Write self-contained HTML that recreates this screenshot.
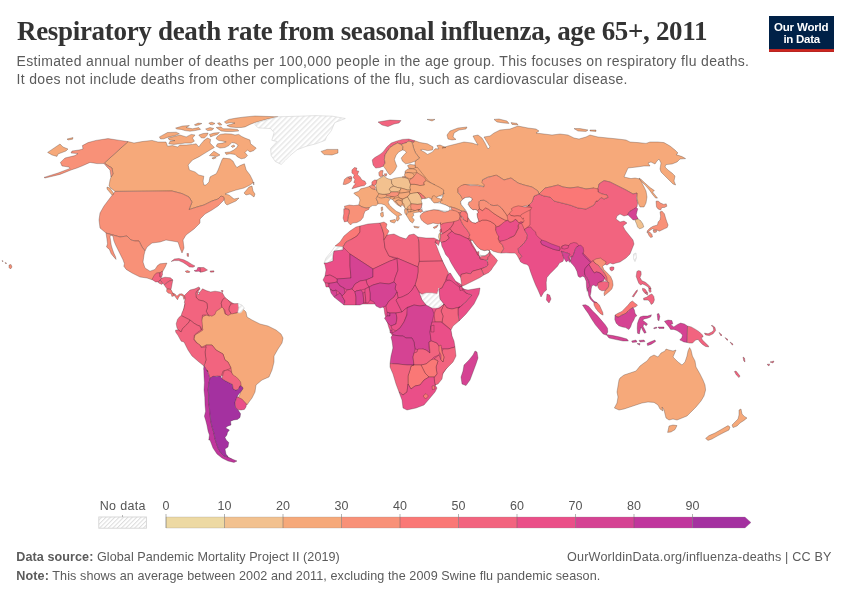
<!DOCTYPE html>
<html><head><meta charset="utf-8">
<style>
html,body{margin:0;padding:0;background:#fff;}
body{width:850px;height:600px;overflow:hidden;position:relative;font-family:"Liberation Sans",sans-serif;}
svg{position:absolute;left:0;top:0;}
text{font-family:"Liberation Sans",sans-serif;}
.title{font-family:"Liberation Serif",serif;font-weight:bold;font-size:27px;fill:#333;}
.sub{font-size:14px;fill:#5b5b5b;}
.foot{font-size:12.6px;fill:#5b5b5b;}
.leg{font-size:12.5px;fill:#555;text-anchor:middle;}
.logo{font-size:11.5px;font-weight:bold;fill:#fff;text-anchor:middle;}
.c path,.c polygon{stroke:#2a2020;stroke-opacity:.55;stroke-width:.5;stroke-linejoin:round;}
.c path.n{stroke:#d2d2d2;stroke-opacity:1;stroke-width:.6;}
</style></head><body>
<svg width="850" height="600" viewBox="0 0 850 600">
<defs>
<pattern id="hatch" patternUnits="userSpaceOnUse" width="3.9" height="4" patternTransform="rotate(45)">
<rect width="4" height="4" fill="#fff"/><rect x="0" y="0" width="1.5" height="4" fill="#e7e7e7"/>
</pattern>
<pattern id="hatch2" patternUnits="userSpaceOnUse" width="3.1" height="4" patternTransform="rotate(45)">
<rect width="4" height="4" fill="#fff"/><rect x="0" y="0" width="1" height="4" fill="#dcdcdc"/>
</pattern>
</defs>
<text class="title" x="17" y="40.3" textLength="690.5" lengthAdjust="spacing">Respiratory death rate from seasonal influenza, age 65+, 2011</text>
<text class="sub" x="16.5" y="66.2" textLength="732.5" lengthAdjust="spacing">Estimated annual number of deaths per 100,000 people in the age group. This focuses on respiratory flu deaths.</text>
<text class="sub" x="16.5" y="84.3" textLength="611" lengthAdjust="spacing">It does not include deaths from other complications of the flu, such as cardiovascular disease.</text>
<rect x="769" y="16" width="65" height="36" fill="#002147"/>
<rect x="769" y="49.1" width="65" height="2.8" fill="#ce261e"/>
<text class="logo" x="801.3" y="30.6" textLength="54.7" lengthAdjust="spacing">Our World</text>
<text class="logo" x="801.8" y="42.6" textLength="36.7" lengthAdjust="spacing">in Data</text>
<g class="c">
<path d="M414.4 140.6L420 142.5L427.5 143.8L433.1 146.9L432.5 150L427.5 150.6L422.5 149.4L420.6 150L425 152.5L427.5 154.4L432.5 151.9L435 148.8L438.8 148.8L436.9 145.6L440 145L446 147.5L442 148L448 146L456 144L464 142L472 143L478 145L475 140L473 136L478 135L482 138L485 143L488 149L490 147L487 142L484 137L490 136L494 133L500 130L510 129L518 126L528 128L536 129L539 131L536 133L544 134L552 135L560 134L568 135L574 138L579 139L586 137L590 135L598 137L608 138L618 139L626 140L630 142L638 142.6L646 143.4L650 142L658 142L664 142.6L670 146L675 150L678 153L676 154.6L682 156.6L685.6 158.6L680 159L677 162L672 164L666 164.6L665 167L668 170L672 173L675 176L674 181L675.6 185L673 184L669 180L664 175L661 172L660 169L661 163L659 159L657 161L655 164L651 162L648 163L650 166L644 166L637 167L628 168L624 177L631 178.6L635 178L640 179L643 185L646 191L647 197L646 203L644 207L640 207L638 203L637 198L637 193L633 194L626 190L618 186L610 182L604 180.6L599 184L598 189L590 190L594 188L586 189L578 187L570 188L563 187L558 185L550 187L545 188L539 194L538 191L532 187L524 185L518 183L511 178L504 180L497 175.4L488 177L482 180L485 183L484 186.6L478 185L470 184.6L463 185L458 189L458 193L461 196L464 199L462.5 199.4L460.6 201.9L461.2 204.4L463.1 206.9L465.6 210L463.8 211.2L461.9 211.2L459.4 210L455 208.1L450.6 206.9L449.4 206.9L445.6 205L440 203.1L441 200L441.5 197.5L443.8 193.8L441.9 191.2L444 194L443 190L438 187L430 184L435 185L430 182.5L426.2 180.6L424.4 177.5L420 174.4L416.9 172.5L416.2 170L415.6 167.5L415 165L415 161.2L419.4 158.1L418.1 156.2L415.6 153.1L413.8 148.8L412.5 143.8L411.2 141.5L413.8 142.2Z" fill="#f6a97a"/>
<path d="M377.5 183.8L392.5 180.6L402.5 179L406.2 177.2L406.5 173.8L409 170.2L410.2 167.1L417.5 167.5L427.5 180L437.5 190L427.5 197.5L422.5 200L420 208.8L410 212.5L405 207.5L395 198.8L387.5 197.5L378.8 195L376.2 191.2Z" fill="#f6a97a"/>
<path d="M328 268L344 248L360 229L380 226L388 238L416 240L432 242L442 260L448 274L460 286L468 292L458 316L450 328L454 348L452 360L436 384L426 400L406 408L403 396L395 376L392 360L394 340L389 328L384.8 314L384 308L380 305L376 304L360 304L345 303L332 292L326 280Z" fill="#ea4f88"/>
<path d="M186.2 297.5L220 295L237.5 306.2L246 318L274 338L266 374L250 390L240 388L220 374L206 364L188 348L178.8 331.2L182.5 315Z" fill="#f2647f"/>
<path d="M529.4 205L528 206L532 202L534 196L539 194L544 196L550 197L554 201L562 203L570 205L578 208L586 209L594 205L596 201L598 201L601 197.4L604 199L608 197.4L607 195L602 194L598 192L598 189L599 184L604 180.6L610 182L618 186L626 190L633 194L637 193L636.4 198L637.6 203L637 207L633 210L629 212L628 215L624 216L620 214L617 216L616 219L620 222L624 221L627 223L623 226L625 230L629 235L633 240L634 244L632 249L630 254L626 258L620 262L616 263L613 264L610 263L607 265L603 263.6L598 262.4L592 264.4L588 260L583 255L583.1 252.5L581.2 249.4L577.5 247.2L573.8 245L570 246.9L565 247.2L561.9 249.4L560 251.9L553.8 251L547.5 248.5L541.9 246L540 242.8L536.2 236.9L533.1 231.9L527.5 229.4L523.8 230.6L521.2 227.5L519.4 221.9L518.8 216.2L521.2 211.2L527.5 206.9Z" fill="#f2647f"/>
<path d="M470.2 241L472.5 240.2L474.4 243.1L477.5 246.9L480.6 249.4L484.4 250.6L487.5 250L489.4 250.6L490 251.9L487.5 254.4L485 255.6L481.9 255.6L480 255L479.4 256.2L477.5 254.4L476.2 251.9L474.4 248.8L471.9 245.6L470 243.1Z" fill="#fff"/>
<path d="M462.5 212.5L480 203.8L512.5 211.2L530 205.6L530 225L512.5 240L500 245L481.2 242.5L468.8 231.2Z" fill="#fa7876"/>
<path d="M441.9 227.5L453.8 220L468.8 237.5L480 257.5L487.5 262.5L481.2 270L462.5 275L460.6 275L443.8 247.5Z" fill="#f2647f"/>
<path d="M573.8 252.5L582.5 252.5L592.5 263.1L605 277.5L600 284.4L590 277.5L577.5 271.2Z" fill="#d54393"/>
<path d="M128 141.6L134 143L142 141.6L152 140.4L158 142L166 142L167.5 146.2L172.5 145.6L177.5 146.9L180 145L186.2 145L192.5 144.4L196.2 143.8L198.8 146.9L200.6 144.4L204.4 140L207.5 138.1L210.6 139.4L210 143.1L212.5 145.6L214.4 147.5L210 150L205 153.1L198.8 156.9L192.5 160L188.1 165L189.4 170L195 171.9L198.8 175L203.8 176.2L203.1 181.2L203.8 185L206 185L209 182L210 177L211.2 176.2L216.2 173.8L218.1 170L220 165L221.9 160L223.1 158.1L230 158.8L233.1 161.2L235 165L236.9 167.5L240 165.6L244.4 163.8L246.2 170L250 175L252.5 180L253.8 185L254 182L250 185L244 188L236 190L230 192L225 194L229 195L234 199L239 198L236 201L227 205L225 203L224 198L221 196L218 199L212 201L204 205L197 207L189 209.6L192 202L189 197L182 193.6L172 191L115 191.4L112 189L109 186L110 180L111 177L113 174L112 168L107 165L104.4 163Z" fill="#f6a97a"/>
<path d="M128 141.6L120 140.4L108 138.6L96 140.4L88 142.6L82.4 145.6L83 149L79 150L72 151L71 153L78 153.6L75 155.6L65 158L60.4 162.4L62 166L69 167L70 168.4L58 173L44 177.4L45 178L60 174.4L71 170L77 168L82 166L90 162.4L97 163.6L104 163.6L107 167L110 170L111 177L113 174L112 168L107 165L104.4 163Z" fill="#f89178"/>
<path d="M115 191.4L110 198L104 206L100 213L99 220L100 228L106 233L113 235L120 237L127 236L131 240L135 241L139 241L142 247L145 251L147 247L152 243L160 242L166 240L172 241L178 242L180 248L182 253L184 248L183 240L186 235L194 229L200 223L200 219L205 214L212 210L218 206L224 200L224 197L221 196L218 199L212 201L204 205L197 207L189 209.6L192 202L189 197L182 193.6L172 191Z" fill="#f89178"/>
<path d="M106 233.1L106.9 238.8L107.5 243.8L106.5 246.9L109.4 249.4L111.2 253.8L113.8 256.9L116 259.4L115.6 256.9L113.8 253.1L112.5 249.4L111.2 245L110.6 240.6L110 236.9L110.6 235L113.1 236.2L113.8 240.6L115.6 245L118.1 250L120.6 255L123.1 260L124.4 263.8L123.8 266.2L126.2 269.4L132 273L140 277L147 278L152.2 279.8L155 276.5L156.5 274L159.4 272.8L161.9 272.8L163.5 270L165.6 266.2L166.9 263.1L160 263.8L157.5 265.6L155 269.4L150 271.2L145 268L143 262L144 255L145 251L142 247L139 241L135 241L131 240L127 236L120 237L113 235Z" fill="#f89178"/>
<path d="M321 151.4L327 149.4L338 149.4L338 153L332 155L324 154.6Z" fill="#f6a97a"/>
<path d="M107 187L110 188L114 194L112 195L107 189Z" fill="#f6a97a"/>
<path d="M244 193L249 187L252 186L253 191L255 194L254 197L250 194L246 195Z" fill="#f6a97a"/>
<path d="M151.9 279.4L154.8 274.4L156.9 272.8L160 272.8L160 276.9L161.9 278.1L160 280L158.1 281.9L155.6 281.9Z" fill="#f2647f"/>
<path d="M160 272.8L162.2 271L162.5 274.4L161.5 277.2L160 276.9Z" fill="#f2647f"/>
<path d="M161.9 278.1L165 277.2L170.6 277.8L172.8 280L169.4 281.2L166.2 283.1L164.4 285L162.5 282.8L160.6 281.2L160 280Z" fill="#f2647f"/>
<path d="M158.1 281.9L160 280.2L160.6 281.2L162.8 283L161.9 284.4L158.8 283.1Z" fill="#f2647f"/>
<path d="M172.8 280L171.9 285L171 289.4L166.9 288.8L164.4 285.2L166.2 283.1L169.4 281.2Z" fill="#f2647f"/>
<path d="M166.9 289L171 289.6L172.8 293.1L174.4 295.6L171.9 296.5L171.2 293.8L168.1 293.1L166.5 291.2Z" fill="#fa7876"/>
<path d="M172.8 293.1L174.4 295.6L176.2 298.1L177.5 299.8L178.8 296.9L180.6 295L183.1 296.2L183.8 299.4L185.2 298.1L184.4 295.6L181.9 293.8L179.4 294L176.9 296.2L175 294Z" fill="#fa7876"/>
<path d="M171.2 261.5L174.4 259L178.8 258.5L183.8 259.8L188.1 261.9L191.9 264.4L195 266L193.1 267.2L189.4 266.9L186.9 265L183.1 262.5L178.8 260.6L174.4 260.6Z" fill="#f2647f"/>
<path d="M199.8 267.5L203.8 267.5L207.5 270L205 271.2L202.5 271.9L200.6 272.2Z" fill="#f2647f"/>
<path d="M194 270.6L196.9 270L197.8 267.5L199.8 267.5L200.6 272.2L198.8 271.2L195.6 271.5Z" fill="#ea4f88"/>
<path d="M185.2 271.2L187.5 270.6L189.8 271.5L189.4 272.5L186.5 272.5Z" fill="#fa7876"/>
<path d="M210 271L213.8 270.8L214 272L210.6 272.2Z" fill="#f2647f"/>
<path d="M186.9 253.5L188.5 253.5L188.5 256.5L187.2 256.2Z" fill="#fa7876"/>
<path d="M221 290.6L223.1 290.6L222.5 292.5Z" fill="#f2647f"/>
<path d="M243 309L246 312L247 317L252 320L260 324L268 326L276 330L281 334L283 338L282 343L278 349L274 356L274 362L272 370L269 377L262 380L256 385L255 392L252 398L249 402L247 405L242 400L238 398L240 394L242 388L239 386L237 380L234 378L232 374L231 368L228 362L225 360L223 354L216 350L212 345L206 345L202 347L197 343L194 339L195 335L200 332L203 330L201 323L202.4 317L208 314L213 314L216 309.6L220 307.6L223 306.6L225 314L228 315L230 313L236 313L239 312Z" fill="#f6a97a"/>
<path d="M199.8 288.1L196.9 290.6L195.6 293.1L196.2 297.5L198.8 300L203.8 301.2L206.9 303.1L207.5 307.5L206.2 311.2L208.1 315L211.9 316.2L215 314.4L216.2 311.2L220 308.8L221.9 306.9L221.2 303.1L222.5 300L225 297.5L222.5 293.1L220 291.9L215 291.2L210.6 291.9L206.2 290.6L202.5 288.8L200.6 291.2L198.8 293.1L198.1 291.2L199.8 289.4Z" fill="#f2647f"/>
<path d="M225 297.5L228.1 300L231.2 303.8L229.4 306.9L229 310L231.2 313.8L228.1 315.6L225.6 313.8L224.8 310L221.9 306.9L221.2 303.1L222.5 300Z" fill="#f2647f"/>
<path d="M231.2 303.8L238.1 303.5L238.8 307.5L237.8 312.5L235 313.1L231.9 314L231.2 313.8L229 310L229.4 306.9Z" fill="#f2647f"/>
<path d="M238.1 303.5L241.9 305L244.4 308.1L241.2 312.5L239.4 313.1L237.8 312.5L238.8 307.5Z" fill="url(#hatch)" class="n"/>
<path d="M206 345L212 345L216 350L223 354L225 360L228 362L231 368L227 370L223 371L221 377L217 376L213 377L210 378L208 372L204 366L206 360L205 352Z" fill="#f2647f"/>
<path d="M226.4 455L228.4 457.6L232.4 459.6L229 458.4Z" fill="#a431a0"/>
<path d="M198.1 291.9L199.4 293.1L198.8 295L197.8 293.8Z" fill="#fff"/>
<path d="M353.8 193.1L358.8 191.2L360.6 188.8L365 187.8L370 186.2L372.5 188.5L375.6 189.4L378.1 191.9L379.4 194.4L376.9 196.9L376.2 198.8L377.5 201.2L378.1 203.8L376.2 205.6L372.5 205.6L369.4 207.5L366.2 208.1L361.9 206.9L358.8 205L360 200L358.8 196.9L355.6 195Z" fill="#f6a97a"/>
<path d="M381 207.5L382.5 206.9L382.8 210L381.5 211.2Z" fill="#f6a97a"/>
<path d="M344.4 206.2L349.4 205L353.8 205.6L358.8 205L361.9 206.9L366.2 208.1L369.4 207.5L368.8 209.4L365 211.2L363.8 214.4L363.1 217.5L360.6 220.6L356.9 222.5L352.5 223.1L350.6 225L348.8 223.1L347.5 221.2L348.1 216.9L349.4 211.9L348.8 209.4L345 208.8Z" fill="#f89178"/>
<path d="M343.8 208.8L345 208.8L348.8 209.4L349.4 211.9L348.1 216.9L347.5 221.2L344.4 221.9L343.1 218.1L343.8 213.8Z" fill="#fa7876"/>
<path d="M376.2 198.8L377.5 196.2L381.2 196.9L385 197.5L388.1 197.5L390 199.4L388.1 201.9L389.4 205L392.5 208.1L396.2 211.2L400 213.1L401.9 215L398.8 215.6L399.4 218.8L397.5 221.2L396.2 219.4L396.9 216.2L393.8 213.8L390.6 211.2L387.5 208.1L385 205L381.2 203.8L378.1 203.8L377.5 201.2Z" fill="#f6a97a"/>
<path d="M390 220.6L395 219.4L396.2 220.6L394.4 223.1L390.6 221.9Z" fill="#f6a97a"/>
<path d="M380.6 213.1L383.1 211.9L383.5 216.2L381.9 217.2L380.6 215.6Z" fill="#f6a97a"/>
<path d="M376.9 180L380 178.1L382.5 176.9L383.1 175L385.6 177.5L388.1 178.8L391.2 179.4L391.9 183.8L393.8 186.2L390.6 187.5L389.4 189.4L391.2 191.9L389.4 193.8L385.6 194.4L382.5 194.4L378.8 193.8L376.9 191.2L376.2 187.5L375.6 183.8Z" fill="#f2c18f"/>
<path d="M391.2 179.4L395 178.1L401.2 177.2L404.4 177.5L408.1 178.8L409.4 181.2L410.6 184.4L410 187.5L410.6 190L407.5 190L403.8 188.8L401.2 188.1L397.5 187.5L393.8 186.2L391.9 183.8Z" fill="#f2c18f"/>
<path d="M372.2 160L374.4 157.8L380 154.4L383.1 151.9L386.9 146.9L391.2 143.1L396.2 141.2L402.5 139.4L408.8 139L414.4 140.6L413.8 142.2L411.2 141.5L408.1 141.2L406.9 142.5L403.8 143.5L401.2 144.4L397.5 143.1L393.8 145L390 147.5L386.9 151.9L385 155L384.4 159.4L385.2 163.1L383.1 166.2L380 167.5L375.6 168.1L373.1 165Z" fill="#f2647f"/>
<path d="M401.2 144.4L403.1 146.9L402.5 150L398.8 151.9L396.2 155L394.4 159.4L395.6 163.1L396.9 166.2L395 170L392.5 173.1L390 175L388.1 173.1L386.2 170L384.4 167.5L383.1 166.2L385.2 163.1L384.4 159.4L385 155L386.9 151.9L390 147.5L393.8 145L397.5 143.1Z" fill="#f6a97a"/>
<path d="M403.8 143.5L406.9 142.5L408.1 141.2L411.2 141.5L412.5 143.8L413.8 148.8L415.6 153.1L418.1 156.2L419.4 158.1L415 161.2L410 163.1L405.6 163.8L402.5 161.2L401.2 158.1L403.8 155L406.2 152.5L405 150.6L402.5 150L403.1 146.9L401.2 144.4Z" fill="#f6a97a"/>
<path d="M407.5 165.6L410 164.4L415 165L415.6 167.5L413.1 168.8L408.8 168.1Z" fill="#f6a97a"/>
<path d="M405 171.2L408.1 168.8L413.1 168.8L416.2 170L416.9 172.5L412.5 173.1L408.1 172.5L405 173.1Z" fill="#f6a97a"/>
<path d="M405 173.1L408.1 172.5L412.5 173.1L414.4 175.6L412.5 178.1L409.4 178.8L405.6 176.9L404.4 175Z" fill="#f6a97a"/>
<path d="M412.5 178.1L414.4 175.6L416.9 172.5L420 174.4L424.4 177.5L426.2 180.6L423.8 182.5L424.4 185L420 185.6L415 184.4L410.6 184.4L409.4 181.2L410 179.4Z" fill="#f89178"/>
<path d="M378.8 172.5L380.6 170.6L383.1 170.6L382.5 173.8L383.1 175.6L380.6 176.9L379 175.6Z" fill="#f89178"/>
<path d="M384.4 173.8L386.9 173.8L386.2 176.2L384.8 176Z" fill="#f89178"/>
<path d="M371.9 181.9L374.4 180L376.9 180L376.2 183.8L374.4 185.6L371.9 185Z" fill="#fa7876"/>
<path d="M369.4 186.2L371.9 185L374.4 185.6L375.6 187.5L375 189.4L371.9 188.8Z" fill="#f89178"/>
<path d="M351.9 170L354.4 167.5L356.9 168.1L356.2 170.6L358.8 171.2L357.5 174.4L360 176.9L361.9 180L365 181.2L366.2 183.8L364.4 185.6L360.6 186.2L356.2 187.5L351.9 188.8L353.8 185.6L355.6 183.8L353.8 182.5L355 179.4L353.1 177.5L354.4 175L351.9 173.1Z" fill="#fa7876"/>
<path d="M348.1 176.9L351.2 176.2L351.9 178.1L349.4 179Z" fill="#fa7876"/>
<path d="M344.4 179.4L347.5 176.9L349.4 179L351.9 178.1L351.2 181.2L348.8 183.1L345.6 184.4L343.1 184.4Z" fill="#f89178"/>
<path d="M389.4 189.4L390.6 187.5L393.8 186.2L397.5 187.5L401.2 188.1L400 190.6L396.9 191.9L393.1 191.9L391.2 191.9Z" fill="#f2c18f"/>
<path d="M385.6 194.4L389.4 193.8L391.2 191.9L393.1 191.9L396.9 191.9L399.4 193.1L398.1 195.6L393.8 196.9L390 196.2L386.9 195.6Z" fill="#f89178"/>
<path d="M400 190.6L401.2 188.1L403.8 188.8L407.5 190L410.6 190L409.4 191.9L405 192.5L401.2 193.1L399.4 193.1Z" fill="#f6a97a"/>
<path d="M398.1 195.6L399.4 193.1L401.2 193.1L405 192.5L409.4 191.9L410 193.8L407.5 196.9L403.1 198.8L399.4 198.1Z" fill="#f6a97a"/>
<path d="M377.5 196.2L378.8 193.8L382.5 194.4L385.6 194.4L386.9 195.6L385 197.5L381.2 198.1L378.8 197.5Z" fill="#f6a97a"/>
<path d="M410.6 190L410 187.5L410.6 184.4L415 184.4L420 185.6L424.4 185L423.8 182.5L426.2 180.6L430 182.5L435 185L440 187.5L443.8 190L443.1 194.4L438.8 196.2L436.2 198.1L432.5 199.4L430 198.1L427.5 199.4L425 197.5L422.5 195L420 193.1L417.5 192.5L413.8 193.1L410 193.8L409.4 191.9Z" fill="#f6a97a"/>
<path d="M390 196.9L393.8 196.9L395 198.1L392.5 199.4L390 198.8Z" fill="#f6a97a"/>
<path d="M392.5 199.4L395 198.1L398.1 197.5L402.5 199.4L401.2 200.6L398.1 200L395.6 201.2L398.8 205L401.2 206.9L397.5 205L394.4 201.9Z" fill="#f6a97a"/>
<path d="M395.6 201.2L398.1 200L401.2 200.6L402.5 203.1L401.2 206.2L398.8 205Z" fill="#f6a97a"/>
<path d="M402.5 199.4L407.5 196.9L409.4 200L411.2 202.5L410 205L407.5 206.9L408.1 209.4L405 208.8L403.8 203.8L402.5 203.1Z" fill="#f2c18f"/>
<path d="M407.5 196.9L410 193.8L413.8 193.1L417.5 192.5L420 195L421.9 198.8L425 200.6L422.5 203.8L417.5 204.4L411.2 203.8L409.4 200Z" fill="#f2c18f"/>
<path d="M411.2 203.8L417.5 204.4L422.5 203.8L421.9 206.9L420 209.4L415 210.6L411.2 209.4L410.6 206.2Z" fill="#f89178"/>
<path d="M417.5 192.5L420 193.1L422.5 195L425 197.5L423.1 199.4L421.9 198.8L420 195Z" fill="#fa7876"/>
<path d="M407.5 209.4L411.2 209.4L410.6 211.9L408.1 212.2Z" fill="#f6a97a"/>
<path d="M404.4 209.4L406.9 208.8L407.5 211.9L406.2 215L404.8 213.1Z" fill="#f6a97a"/>
<path d="M406.2 215L408.1 212.2L410.6 211.9L415 210.6L420 209.4L419.4 211.9L415.6 212.5L413.1 213.1L413.8 215.6L411.9 216.9L414.4 220L412.5 223.1L410 221.2L408.1 218.1Z" fill="#f6a97a"/>
<path d="M413.8 226.2L419.4 226.9L418.1 228.1L414.4 227.5Z" fill="#f6a97a"/>
<path d="M335 246L340 242L344 236L350 231L356 227L360 226L360 232L357 236L352 239L346 242L343 247Z" fill="#fa7876"/>
<path d="M324 263L326 258L331 252L335 246.4L343 247L343 250L334 251L333 256L333 261L327 263Z" fill="url(#hatch)" class="n"/>
<path d="M325 265L324 263L327 263L333 261L333 256L334 251L343 250L343 247L349 251L350 254L350 266L351 278L337 279L334 277L330 275L325 276L326 270Z" fill="#ea4f88"/>
<path d="M360 226L368 224L380 223L382 228L384 235L384 240L385 248L389 256L396 259L390 261L373 269L350 254L343 247L346 242L352 239L357 236L360 232Z" fill="#f2647f"/>
<path d="M380 223L384 222L387 224L386 228L389 231L387 235L384 240L384 235L382 228Z" fill="#fa7876"/>
<path d="M387 235L394 234L400 237L406 239L409 235L414 234L418 237L419 242L419.4 261L418 267L397 258L389 256L385 248L384 240Z" fill="#f2647f"/>
<path d="M418 237L426 238L434 238L438 240L437 244L435 242L438.8 252L442.4 261L419.4 261.4L419 242Z" fill="#f2647f"/>
<path d="M435 241L438 240L440 241L438.4 245.6Z" fill="#f2647f"/>
<path d="M419.4 261.4L442.4 261L446 268L448.6 273L447 276L445 282L442 288L438 290L437 294L432 293L426 293L422 294L419 292L415 285L417 278L418 272L418 267Z" fill="#f2647f"/>
<path d="M419 293L422 294.4L426 293L432 293L437 294L439 288L440 299L444 304L438 308L432 308L426 305L422 300Z" fill="url(#hatch)" class="n"/>
<path d="M445 282L448 280L452 280L457 282L462 285L461 289L466 293L472 295L466 302L460 307L452 309L447 308L444 304L440 299L439 289L442 288Z" fill="#ea4f88"/>
<path d="M463 289L468 290L480 288L479 294L474 304L466 314L459 321L458 314L458 308L460 307L466 302L472 295L466 293Z" fill="#ea4f88"/>
<path d="M444 304L447 308L452 309L460 307L458 308L458 314L459 321L453 326L451 330L442 322L443 316L441 311Z" fill="#f2647f"/>
<path d="M434 314L436 309L440 308L444 304L441 311L443 316L442 322L435 322Z" fill="#f2647f"/>
<path d="M350 254L373 269L373 277L366 280L360 281L355 284L352 289L347 290L344 288L340 286L337 282L337 279L351 278L350 266Z" fill="#d54393"/>
<path d="M373 269L390 261L396 259L397 258L398 270L395 278L394 282L389 284L380 283L373 285L369 287L367 284L366 280L373 277Z" fill="#ea4f88"/>
<path d="M397 258L418 267L418 272L417 278L415 285L412 290L408 294L402 297L398 298L397 292L395 289L396 284L394 282L395 278L398 270Z" fill="#ea4f88"/>
<path d="M369 287L373 285L380 283L389 284L394 282L396 284L395 289L397 292L394 297L389 301L386 306L380 308L376 306L374 302L370 300L370 293Z" fill="#d54393"/>
<path d="M325 276L330 275L334 277L337 279L337 282L332 283L325 283L323 280Z" fill="#ea4f88"/>
<path d="M325 283L329 283.6L329 287L326 287Z" fill="#ea4f88"/>
<path d="M329 283.6L332 283L337 282L340 286L344 288L345 293L342 296L340 293L336 290L333 291L330 289L329 287Z" fill="#d54393"/>
<path d="M330 289L333 291L336 290L337 295L334 297L331 293Z" fill="#d54393"/>
<path d="M337 295L340 293L342 296L345 301L344 305L339 301L334 297Z" fill="#d54393"/>
<path d="M345 293L347 290L352 289L355 292L356 297L356 305L350 305L344 305L345 301L342 296Z" fill="#ea4f88"/>
<path d="M352 289L355 284L360 281L366 280L367 284L369 287L365 289L361 290L356 291L355 292Z" fill="#ea4f88"/>
<path d="M356 291L361 290L363 293L364 303L360 305L356 305L356 297L355 292Z" fill="#d54393"/>
<path d="M363 293L365 292L366 303L364 303Z" fill="#ea4f88"/>
<path d="M365 289L369 287L370 293L370 300L368 303L366 303L365 292Z" fill="#ea4f88"/>
<path d="M389 301L394 297L397 292L398 298L396 300L399 306L402 312L396 313L390 313L387 312L386 306Z" fill="#ea4f88"/>
<path d="M398 298L402 297L408 294L412 290L415 285L419 292L422 300L426 305L420 306L414 305L408 307L404 310L402 312L399 306L396 300Z" fill="#ea4f88"/>
<path d="M387 312.4L390 313L390 316L387 316Z" fill="#d54393"/>
<path d="M387 316L390 316L390 313L396 313L397 318L396 324L391 326L387 322L384.4 318Z" fill="#d54393"/>
<path d="M396 313L402 312L404 310L408 307L407 314L404 322L400 328L396 331L392 329L391 326L396 324L397 318Z" fill="#ea4f88"/>
<path d="M407 308L414 305L420 306L426 305L432 308.4L434 314L432 322L431 326L430 332L431 340L429 342L429 348L430 353L426 350L423 349L420 350L415 349L414 342L412 338L406 338L403 336L400 336L393 335L392 333L396 331L400 328L404 322L407 315Z" fill="#d54393"/>
<path d="M393 335L400 336L403 336L406 338L412 338L414 342L415 349L414 353L413 357L414 365L407 365L398 364L390 363.6L391 356L393 348L392 341L391 337Z" fill="#d54393"/>
<path d="M390 330L392 330L392 333L390 333Z" fill="#d54393"/>
<path d="M414 353L417 352L418 349L423 349L426 350L430 353L429 342L432 341L437 343L439 346L441 350L439 355L434 357L431 360L426 364L421 365L414 365L413 357Z" fill="#f2647f"/>
<path d="M434 322L441 322L451 330L452 336L454 341L455 347L448 349L443 349L439 346L437 343L432 341L431 340L430 332L431 326L432 322Z" fill="#ea4f88"/>
<path d="M431 326L434 325L434 332L431 332Z" fill="#ea4f88"/>
<path d="M443 349L448 349L455 347L456 356L453 362L446 369L443 373L442 379L438 384L435 385L434 378L437 374L436 367L438 361L434 359L439 355L441 360L443 362L444 357L442 352Z" fill="#f2647f"/>
<path d="M439 346L441 345L442 352L444 357L443 362L441 360L441 355L439 351Z" fill="#fa7876"/>
<path d="M421 365L426 364L431 360L434 359L438 361L436 367L437 374L434 377L429 377L425 373L423 369Z" fill="#fa7876"/>
<path d="M411 366L414 365L421 365L423 369L425 373L429 377L424 380L420 385L415 386L411 389L408 384L408 376L410 370Z" fill="#fa7876"/>
<path d="M390 363.6L398 364L407 365L414 365L411 366L410 370L408 376L408 384L407 392L403 395L399 392L396 384L393 374L390 367Z" fill="#f2647f"/>
<path d="M399 392L403 395L407 392L408 384L411 389L415 386L420 385L424 380L429 377L434 377L435 385L437 388L435 392L430 398L424 405L416 408L407 410L403 408L402 400Z" fill="#ea4f88"/>
<path d="M423 396L426 393.6L428.4 396L425.6 399Z" fill="#fa7876"/>
<path d="M432 386L434.4 385.6L435 389L432.4 389.6Z" fill="#fa7876"/>
<path d="M475 351L477 352L478 358L476 364L473 372L470 380L466 385.6L462 384L461 377L463 371L464 365L469 360L473 355Z" fill="#d54393"/>
<path d="M547 294L549.6 295L551 299L549 303L546.4 300Z" fill="#ea4f88"/>
<path d="M402.5 176.5L405 176.2L405.2 177.5L402.8 177.8Z" fill="#f6a97a"/>
<path d="M448 139L447 135L450 131L458 128L467 127L466 129L459 130L454 133L453 137L456 139.4L452 140Z" fill="#f6a97a"/>
<path d="M494 119.4L499 119L507 121L509 123.4L504 123L497 122Z" fill="#f6a97a"/>
<path d="M511 122.6L517 123.4L518 125L512 124.4Z" fill="#f6a97a"/>
<path d="M574 128.6L580 128.6L588 130L586 131.4L578 131Z" fill="#f6a97a"/>
<path d="M590 130L596 130L596 131.4L590 131Z" fill="#f6a97a"/>
<path d="M427 119.4L435 119.4L432 121Z" fill="#f6a97a"/>
<path d="M378 122L390 120L401 120.6L399 123L394 124L388 126.6L382 125Z" fill="#f2647f"/>
<path d="M47.6 152.4L60 144L63 147L68 149L66 151L58 154L57 156.4L52 155Z" fill="#f6a97a"/>
<path d="M67 139L73 137.6L72.6 139.2L68 140Z" fill="#f6a97a"/>
<path d="M539 194L545 188L550 187L558 185L563 187L570 188L578 187L586 189L594 188L598 189L598 192L602 194L607 195L608 197.4L604 199L601 197.4L598 201L596 201L594 205L586 209L578 208L570 205L562 203L554 201L550 197L544 196Z" fill="#fa7876"/>
<path d="M633.6 254L636 253L636.4 258L635 261.6L633.6 259Z" fill="url(#hatch)" class="n"/>
<path d="M450.6 206.9L455 208.1L459.4 210L461.9 211.2L460.6 212.5L458.1 213.1L455 211.9L451.9 210Z" fill="#f89178"/>
<path d="M458.1 213.1L460.6 212.5L460 215L462.5 216.9L461.2 217.5L458.8 215.6Z" fill="#fa7876"/>
<path d="M460.6 212.5L461.9 211.2L463.8 211.2L466.2 212.5L468.1 215L468.1 217.5L467.5 221.9L463.8 220L462.5 216.9L460 215Z" fill="#fa7876"/>
<path d="M440 223.1L445 222.5L449.4 221.2L454.4 220.6L453.1 224.4L450 228.8L445.6 231.9L442.5 233.8L441.2 231.9L440.6 227.5Z" fill="#f2647f"/>
<path d="M454.4 220.6L458.1 218.8L459.4 216.2L461.2 221.2L463.1 225L466.2 228.8L468.8 232.5L470 235L470 237.5L468.1 238.8L465 237.5L460 235L455 233.8L451.9 231.2L450 228.8L453.1 224.4Z" fill="#f2647f"/>
<path d="M433.1 227.5L435.6 226.2L438.1 225L436.9 227.2L434.4 228.5Z" fill="#f89178"/>
<path d="M606 334.4L613 335.6L620 337L627 339L628.4 341L623 341L616 339.6L609 338Z" fill="#d54393"/>
<path d="M439.8 230L441.2 228.8L441.5 231.9L440.2 233.1Z" fill="#f2647f"/>
<path d="M439 233.8L440.6 233.1L440.6 237.5L439.8 241.2L438.5 236.9Z" fill="#f2c18f"/>
<path d="M631.6 341L636 340L637 342L632.4 342.4Z" fill="#d54393"/>
<path d="M440.6 233.8L442.5 233.8L445.6 231.9L450 228.8L451.9 231.2L447.5 235L449.4 238.1L445.6 241.2L441.2 242.5L440 240.6L440.6 237.5Z" fill="#f2647f"/>
<path d="M639 340.4L644 340L645 341.6L640 342Z" fill="#d54393"/>
<path d="M468.1 238.8L470 237.5L471.5 240L470 241Z" fill="#f2647f"/>
<path d="M647 343.6L650 342L655 340L655.6 341.6L651 344.4L647.6 345.6Z" fill="#d54393"/>
<path d="M459.4 216.2L461.2 216.9L463.8 220L467.5 221.9L468.1 217.5L470 220.6L472.5 222.5L475.6 223.1L478.8 221.2L480 221.2L482.5 220L486.2 220L490 221.2L493.1 223.1L495.6 225L496.2 227.5L495.6 229.4L496.9 231.9L498.8 235L498.1 238.8L499.4 241.9L502.5 245L503.8 248.8L501.2 253.1L497.5 252.5L493.1 251.2L490.6 249.4L489.4 250.6L487.5 250L484.4 250.6L480.6 249.4L477.5 246.9L474.4 243.1L472.5 240.2L470.6 240L468.8 236.9L470 235L468.8 232.5L466.2 228.8L463.1 225L461.2 221.2Z" fill="#fa7876"/>
<path d="M637 343.6L640 343.6L639.6 345.2Z" fill="#d54393"/>
<path d="M477.5 210.6L479.4 208.8L482.5 210.6L485.6 207.8L488.8 209.4L492.5 212.5L496.2 215L501.2 218.1L505 220L507.5 220.6L508.1 222.5L505 223.1L501.9 224.4L498.8 226.2L496.2 227.5L495.6 225L493.1 223.1L490 221.2L486.2 220L482.5 220L480 221.2L478.8 221.2L477.5 217.5L476.9 213.8L478.1 212.5Z" fill="#fa7876"/>
<path d="M478.8 201.9L480 200.6L483.8 200L487.5 201.9L490 204.4L493.8 205.6L497.5 205L501.2 207.5L505 212.5L507.5 216.2L510 215L511.9 212.5L515 211.2L516.9 212.5L514.4 213.8L512.5 215L511.2 216.2L509.4 218.1L510 220.6L508.1 222.5L507.5 220.6L505 220L501.2 218.1L496.2 215L492.5 212.5L488.8 209.4L485.6 207.8L482.5 210.6L479.4 208.8L478.8 205.6Z" fill="#f89178"/>
<path d="M653.6 328L656.4 327L657 328L654 328.8Z" fill="#d54393"/>
<path d="M501.2 253.1L503.8 248.8L502.5 245L499.4 241.9L502.5 240L506.2 238.8L511.2 237.5L514.4 235.6L516.9 231.2L518.8 227.5L518.1 223.8L520 221.2L523.8 218.1L518.8 222.5L521.9 223.8L524.4 229.4L525.6 231.9L527.5 235L526.9 238.8L525 241.9L523.1 244.4L520 246.9L518.1 248.8L518.8 252.5L521.9 256.2L519.4 259.4L516.9 255L515 253.1L511.2 253.1L506.2 252.8Z" fill="#f2647f"/>
<path d="M658 327L664 327L664 328.4L659 328.4Z" fill="#d54393"/>
<path d="M441.2 242.5L445.6 241.2L449.4 238.1L447.5 235L451.9 231.2L455 233.8L460 235L465 237.5L468.1 238.8L470 241L471.9 245.6L474.4 248.8L476.2 251.9L477.5 254.4L479.4 256.2L480 258.8L486.2 260L487.5 261.9L488.1 265L486.2 266.9L481.2 268.8L476.9 270L472.5 271.2L470.6 273.8L466.2 273.1L461.2 274.4L460.6 277.5L458.8 275L456.2 271.2L453.1 266.2L450.6 261.9L448.8 258.1L445.6 254.4L443.8 250L441.9 246.2Z" fill="#ea4f88"/>
<path d="M477.2 251.9L478.8 251.5L479 255L477.5 255Z" fill="#f2647f"/>
<path d="M480 256.9L481.9 256.2L485 256L487.5 254.4L489.4 251.9L490 255L488.1 257.5L487.5 260L486.2 260L480 258.8Z" fill="#f2647f"/>
<path d="M489.4 250.6L490.6 253.1L495 257.5L497.5 260.6L495.6 263.8L493.1 266.9L491.2 270L488.8 272.5L485 274.4L483.8 275L481.9 270.6L481.2 268.8L486.2 266.9L488.1 265L487.5 261.9L487.5 260L488.1 257.5L490 255Z" fill="#f2647f"/>
<path d="M719 332.4L722 335L721 336Z" fill="#f2647f"/>
<path d="M725 337.6L728 339.6L727.2 340.4Z" fill="#f2647f"/>
<path d="M460.6 277.5L461.2 274.4L466.2 273.1L470.6 273.8L472.5 271.2L476.9 270L481.2 268.8L481.9 270.6L483.8 275L480 277.5L475 280L470 282.5L465 285L461.9 286.2L461.2 281.9Z" fill="#f2647f"/>
<path d="M449.4 273.1L450.4 273.1L452.8 276.9L455.2 280.6L458.5 285L461.9 286.9L460 287.2L458.1 286.2L455 283.8L451.9 281.2L449.4 280L446.2 280L447.5 276.2Z" fill="#ea4f88"/>
<path d="M730 342L733 344L732.4 345.2Z" fill="#f2647f"/>
<path d="M459.4 286.9L461.9 286.2L462.5 290L460 290.6Z" fill="#ea4f88"/>
<path d="M524.4 229.4L527.5 227.5L530.6 226.9L533.1 230L535.6 231.9L536.2 235L539.4 238.1L541.9 240L540.6 241.9L541.9 244.4L547.5 246.9L553.8 249.4L559.4 250.6L560.6 248.8L561.9 246.2L565 245L568.8 245.6L570 243.8L573.8 242.5L576.9 243.1L578.8 245.6L576.2 247.5L575 250L573.8 253.8L572.5 256.9L571.2 256.2L570 258.1L570.6 261.2L568.8 258.8L568.1 256.9L570 254.4L567.5 253.1L563.1 251.9L561.2 251.2L562.5 253.8L563.8 258.1L563.1 261.2L559.4 263.1L557.5 266.2L553.8 270L550 273.8L546.9 277.5L546.2 282.5L546.5 290L544 292L541 297L538 290L535.6 285L533.1 278.8L530.6 271.9L528.8 266.2L526.9 264.4L523.8 263.8L520.6 261.9L519.4 259.4L521.9 256.2L518.8 252.5L518.1 248.8L520 246.9L523.1 244.4L525 241.9L526.9 238.8L527.5 235L525.6 231.9Z" fill="#ea4f88"/>
<path d="M540.6 241.9L541.9 240L545.6 241.2L551.2 243.8L556.2 245.6L560 246.9L559.4 250.6L553.8 249.4L547.5 246.9L541.9 244.4Z" fill="#d54393"/>
<path d="M561.9 246.2L565 245L568.8 245.6L568.1 248.1L564.4 249L561.9 248.5Z" fill="#ea4f88"/>
<path d="M620 378L624 375L630 373L636 371L640 366L644 363L647 361L650 357L654 355L658 357L661 353L665 351L666 349L669 350L673 351L676 350L673 357L678 362L682 365L685 362L687 356L688 351L689.6 347.6L691 350L692.4 356L695 361L696 367L700 374L703 380L705 385L705.6 390L704 396L701 401L696 407L691 412L687 416L682 418L677 420L673 419L669 420L666 418L665 414L664 410L662 407L663 411L660 409L658 405L654 402.4L648 402L642 403L636 405L630 407L624 409L619 410L614.4 408L617 403L618 397L617 392L618 386L619 380Z" fill="#f6a97a"/>
<path d="M561.2 251.2L563.1 251.9L567.5 253.1L570 254.4L568.1 256.9L568.8 258.8L570.6 261.2L570 262.5L568.1 260.6L566.2 261.9L563.8 258.1L562.5 253.8Z" fill="#d54393"/>
<path d="M669 426L673 425L677 425.6L675 429.6L671 432L667.6 432.4L668.4 429Z" fill="#f6a97a"/>
<path d="M739 410L741 409L742 414L744.4 416.4L747 418L744 420.4L740 423L737 426L733 427.6L732 425L735 422L738 419L739 415Z" fill="#f6a97a"/>
<path d="M590.6 262.5L593.1 260.6L595 263.1L598.1 264.4L600 267.5L602.5 270.6L605 273.8L607.5 277.5L608.1 281.2L605.6 280.6L604.4 277.5L601.2 273.8L598.8 272.5L596.2 271.9L594.4 273.1L592.5 270.6L590.6 267.5L588.8 264.4Z" fill="#f2647f"/>
<path d="M705.6 438.4L709 435.6L715 433L722 429L728 425.6L730 427L729 430L724 432.4L718 435.6L712 439L708 440.4Z" fill="#f6a97a"/>
<path d="M159.4 136.9L167.5 132.5L176.2 132.2L179.4 133.8L175 135.6L168.8 136.9L163.8 138.8L160.6 139Z" fill="#f6a97a"/>
<path d="M734.4 371.6L736 371L740 376L739 377.6L736.4 375Z" fill="#f2647f"/>
<path d="M767 364.4L769.6 364L769 366Z" fill="#f2647f"/>
<path d="M168.1 138.1L175 136.2L180 135L186.2 136.9L191.2 134.4L195 135L192.5 138.1L194.4 141.2L191.2 143.1L185 143.1L180 143.8L173.8 144.4L168.8 143.8L170 141.2L175 140.6L169.4 140Z" fill="#f6a97a"/>
<path d="M175.6 128.1L182.5 126L189.4 125.6L186.2 127.5L192.5 128.8L198.8 127.5L200.6 129.4L195 130.6L190 131.2L185 130.6L181.2 129.4L176.9 129Z" fill="#f6a97a"/>
<path d="M194.4 124.8L198.1 123.1L201.9 123.5L198.8 125L195.6 125.6Z" fill="#f6a97a"/>
<path d="M205.6 129L210 127.5L213.8 128.5L211.9 130.2L207.5 130.6Z" fill="#f6a97a"/>
<path d="M422.5 213L426 211.5L430 210L434 209.8L438 210L442 211.5L445 212.2L448 211L450.5 209.8L454 210.5L456 211L458.5 212.5L459.5 214.5L460 216.5L459.5 218.5L459 220L456 221L452 222L448 222.5L444.5 223L442.5 223.5L441.5 225L440.5 224L441 222.5L438.5 224L435.5 223.5L433 223L430 224L427.5 224.5L425 223L423 221.5L421.5 220L420.5 218L420 216L421 214.5Z" fill="#f89178"/>
<path d="M208.8 123.1L211.9 122.2L215 123.5L212.5 124.8L210 124.4Z" fill="#f6a97a"/>
<path d="M457.8 188.1L461.2 185.6L465 184.4L470.6 185.6L477.5 185.6L483.8 186.9L484.4 185L481.9 182.5L482.5 180L487.5 177.5L492.5 176.2L496.2 175L504 180L511 178L518 183L524 185L532 187L538 191L539 194L534 196L532 202L528 206L529.4 205L523.8 206.2L518.1 207.5L515 208.1L512.5 210L511.9 212.5L510 215L507.5 216.2L505 212.5L501.2 207.5L497.5 205L493.8 205.6L490 204.4L487.5 201.9L483.8 200L480 200.6L478.8 201.9L478.8 205.6L479.4 208.8L477.5 210.6L475 209.4L473.1 210L470 207.5L468.1 204.4L468.8 201.9L471.2 201.2L472.2 198.8L470 197.2L465.6 197.5L462.5 199.4L460.6 195.6L458.1 192.5Z" fill="#f89178"/>
<path d="M418 210L421.5 209.5L422.5 211.5L420 212.5Z" fill="#f89178"/>
<path d="M217.5 123.1L220 122.8L221.9 124.8L219.4 125.2Z" fill="#f6a97a"/>
<path d="M224.4 121.9L228.8 119.4L236.2 118.1L245 116.9L255 116L278.2 116.8L267.6 118.9L255 122.5L250 124.4L245 126.9L241.2 127.5L236.2 127.5L230 126.9L226.9 125.6L230 124.4L235 123.1L231.2 122.5L226.2 123.5Z" fill="#f6a97a"/>
<path d="M216.2 127.5L221.2 126.9L223.1 128.8L230 128.8L237.5 129.4L238.8 131L232.5 131.5L226.2 131.5L221.2 131L218.8 129.4Z" fill="#f6a97a"/>
<path d="M578.8 245.6L580.6 245L583.1 247.5L583.8 251.2L582.5 253.8L585 256.9L588.1 260L590.6 262.5L588.8 264.4L586.9 266.2L585 268.8L584.4 271.9L585 275L586.9 277.5L588.8 281.2L590 286.2L587.8 288.9L587.2 291.4L586.5 287L586.2 281.2L584.4 276.9L582.5 276.2L580 277.5L578.1 276.2L576.9 271.2L575 267.5L573.1 265L571.2 263.1L570.6 261.2L571.2 256.2L572.5 256.9L573.8 253.8L575 250L576.2 247.5Z" fill="#d54393"/>
<path d="M198.8 135L203.1 133.5L208.1 133.1L206.9 135.6L204.4 138.1L201.2 137.8Z" fill="#f6a97a"/>
<path d="M585 268.8L586.9 266.2L588.8 264.4L590.6 267.5L592.5 270.6L594.4 273.1L596.2 271.9L598.8 272.5L601.2 273.8L604.4 277.5L604 280.6L601.2 281.2L598.8 282.5L597.5 285L596.2 286.4L593.8 285.1L591.9 285.8L591.2 288.9L591 292L590.2 295.8L591.5 298.2L593.8 301L596.9 302.6L597.5 303.9L595 303.2L592.5 301.4L590.2 298.9L588.8 295.8L588.1 292L587.8 288.9L590 286.2L588.8 281.2L586.9 277.5L585 275L584.4 271.9Z" fill="#d54393"/>
<path d="M609.8 267.6L611.9 266.8L614 267.2L613.8 269.5L611.9 271L610 269.8Z" fill="#f2647f"/>
<path d="M209.4 134.4L213.8 133.1L219.4 132.5L217.5 134.4L213.8 135.6L210.6 136.9Z" fill="#f6a97a"/>
<path d="M216.9 136.9L220 134.4L225 133.8L231.2 134L235 135L238.8 134.4L241.2 136.2L245 138.1L250 140L250.6 143.8L256.2 148.1L253.8 150.6L250 151.9L247.5 150L245 152.5L247.5 155.6L245 158.1L241.2 158.8L237.5 156.9L235 154.4L230 153.8L226.2 154.4L225 152.5L230 151.9L233.8 150L236.9 147.5L238.1 145L235 143.1L231.9 142.5L228.8 145.6L225 147.5L220 148.1L216.2 146.2L217.5 143.8L222.5 143.1L226.2 141.9L223.1 141.2L218.8 140.6L216.2 138.8Z" fill="#f6a97a"/>
<path d="M593.8 302.6L596.9 302.6L599.4 305.1L601.2 308.9L602.8 312.6L603.1 315.1L600.6 313.9L598.1 311.4L595.6 308.2L594 305.1Z" fill="#fa7876"/>
<path d="M231.2 146.2L233.8 145L235 146.2L232.5 147.5Z" fill="#f6a97a"/>
<path d="M582.5 305.1L585.6 304.8L588.8 306.4L592.5 310.8L596.9 315.1L601.2 320.1L605 324.5L607.5 328.2L607.8 332L606.2 335.1L603.1 333.9L599.4 329.5L595.6 325.1L591.9 319.5L588.1 313.2L585 308.9Z" fill="#d54393"/>
<path d="M615 315.1L618.1 313.2L621.9 311.4L625 308.2L628.1 305.1L630.6 302L632.5 301L635 303.2L637.5 305.1L635.6 307L633.1 307.6L630.6 308.9L628.1 311.4L625 313.9L621.9 315.1L618.8 317L616.9 317Z" fill="#fa7876"/>
<path d="M209.4 155.6L213.8 151.2L216.2 152.5L220 155L216.9 156.5L213.1 156Z" fill="#f6a97a"/>
<path d="M211.9 158.1L215 156.9L216.2 157.8L213.1 159Z" fill="#f6a97a"/>
<path d="M615 315.1L616.9 317L618.8 317L621.9 315.1L625 313.9L628.1 311.4L630.6 308.9L633.1 307.6L634.4 310.1L635 313.2L636.9 315.8L635 317L633.8 320.1L631.9 323.2L630.6 327L628.8 329.5L625.6 327.6L622.5 327L618.8 325.8L616.2 323.2L614.8 319.5Z" fill="#d54393"/>
<path d="M254.7 124.4L258.2 127.9L270.6 128.5L274.1 132.6L271.8 140.3L277.1 141.5L270.6 148.5L271.2 155.6L275.3 161.5L281.2 164.4L285.3 160.3L290 155.6L297.1 149.7L306.5 146.2L315.9 143.8L325.3 140.3L326.5 136.8L331.2 130.9L334.7 122.6L345.3 118.5L332.4 116.2L315.9 115.6L299.4 116.2L278.2 116.8L267.6 119.7L257.1 122.6Z" fill="url(#hatch)" class="n"/>
<path d="M640 317L643.1 316L647.5 316L651.5 314.8L650.6 317L647.5 318.2L644.4 318.9L642.5 320.1L645 322L647.5 323.9L646.2 325.8L643.8 323.9L643.1 326.4L645 330.1L646.2 332.6L644.4 333.2L642.5 330.1L641.2 327L640 330.8L639.4 333.9L637.5 333.2L637.2 328.2L637.5 323.2L638.8 319.5Z" fill="#d54393"/>
<path d="M657.2 313.9L658.8 313.5L659.8 316.4L659 320.8L657.8 320.1L657.5 317Z" fill="#d54393"/>
<path d="M9 265L11 264.5L12 267L10.5 269L9 267.5Z" fill="#f89178"/>
<path d="M627.5 214.4L630 211.2L633.1 209.4L636.2 207.5L637.8 208.8L636.9 211.9L636.2 215L637.5 217.5L638.1 219L635 219.8L633.1 220L631.2 218.1L629.4 216.2Z" fill="#d54393"/>
<path d="M5 262.5L6.5 263L6 264Z" fill="#f89178"/>
<path d="M636.9 271.4L638.8 270.5L641 271.4L641.2 274.5L640 277.6L641.9 280.8L645 282L647.5 283.9L650 286.4L651.2 288.9L649.4 288.9L648.1 287L645 285.1L642.5 283.9L640.6 285.1L638.8 283.2L637.5 280.1L636.2 276.4Z" fill="#f2647f"/>
<path d="M635 219.8L638.1 219L640.6 220.6L642.8 223.8L643.8 226.9L641.9 228.1L639.4 228.8L637.5 226.9L636.5 223.8L635.6 221.9Z" fill="#f2c18f"/>
<path d="M2 260.5L3.2 261L2.6 261.8Z" fill="#f89178"/>
<path d="M642.5 288.2L645 288.9L646.9 291.4L645.6 293.9L643.8 292L642.5 290.1Z" fill="#f2647f"/>
<path d="M639 178.1L641.2 179.4L645 183.1L650 187.5L654.4 190.6L652.5 191.9L655 195L657.5 198.1L655.6 198.1L652.5 194.4L649.4 190L645.6 185.6L641.9 181.9L639.8 179.4Z" fill="#f6a97a"/>
<path d="M656 201.2L658.1 201L660.6 203.1L663.8 204.4L666.2 203.8L666.9 206.2L664.4 207.5L661.9 207.5L660.6 210L658.1 209L656.5 206.9Z" fill="#f89178"/>
<path d="M648.8 288.2L650.6 288.9L651.2 291.4L650 292.6L648.8 290.8Z" fill="#f2647f"/>
<path d="M743 357L744.5 358L745 362L743.8 361Z" fill="#f2647f"/>
<path d="M185.2 298.1L184.4 295.6L186.9 293.1L190 290L195 288.8L198.8 286.9L199.8 288.1L196.9 290.6L195.6 293.1L196.2 297.5L198.8 300L203.8 301.2L206.9 303.1L207.5 307.5L206.2 311.2L208.1 315L209.4 316.2L206.2 315L202.5 315L201.9 320L202.5 326.2L201.2 330L200 326.2L196.9 325L193.8 323.1L190 320L186.2 318.1L182.5 316.2L181.2 315.6L181.9 313.1L183.8 308.8L185 303.8L184.4 302.5Z" fill="#f2647f"/>
<path d="M770 362L774 361L773 363Z" fill="#f2647f"/>
<path d="M660 211.9L661.9 211L664.4 213.8L665.6 218.1L666.9 221.9L668.1 225L667.2 227.5L664.4 228.8L661.9 230L659.4 231.2L656.9 230L654.4 229.8L652.5 228.8L650.6 230L648.1 231.9L646.9 232.5L647.5 230.6L650 228.1L653.1 226.2L657.5 225L658.1 221.9L660 220L660.6 216.2Z" fill="#f89178"/>
<path d="M646.2 292L647.8 292.6L647.5 295.1L646.5 294.5Z" fill="#f2647f"/>
<path d="M495.8 227.1L499.2 226.2L502.5 223.3L504.6 221.7L507.9 220L509.6 222.1L511.7 221.7L513.8 220.8L515 219.2L516.7 220L518.8 222.9L520.8 221.7L523.3 222.1L522.1 222.9L519.2 223.8L517.9 225.8L518.3 228.3L516.7 230.8L515.8 233.3L514.2 235.8L510 237.5L507.5 239.2L504.2 240.4L500 241.2L498.3 239.2L498.8 236.7L497.1 234.2L495.8 230.8Z" fill="#ea4f88"/>
<path d="M181.2 315.6L182.5 316.2L186.2 318.1L190 320L188.8 322.5L185.6 325.6L182.5 328.8L181.2 331.9L178.1 330L176.9 327.5L176.2 323.8L177.5 319.4L179.4 316.9Z" fill="#f2647f"/>
<path d="M647.5 232.5L650 232.2L651.9 234.4L652.5 236.9L650.6 237.5L649 235.6Z" fill="#f89178"/>
<path d="M643.5 298.2L646.9 297L649.4 295.1L651.9 293.9L653.8 296.4L654.4 300.1L653.1 303.2L651.2 304.5L650 302L648.1 300.1L645.6 300.1L643.8 300.1Z" fill="#f2647f"/>
<path d="M593.1 260.6L596.2 258.8L600.6 258.1L603.1 260L606.2 261.9L605 264.4L602.5 266.2L603.8 269.5L606.9 272.6L610.6 276.4L612.5 280.8L613.1 285.1L611.9 288.9L608.8 292L605.6 294.5L604.4 295.8L604 293.2L605 290.5L606.9 288.9L608.5 286.4L608.8 282.6L607.2 281.8L606.9 277.6L605 273.9L603.1 270.8L600.6 267.6L598.1 265.1L595 263.1Z" fill="#f89178"/>
<path d="M597.5 285.1L598.1 282.6L601.2 281.8L604.4 281.4L607.2 281.8L608.8 282.6L608.5 286.4L606.9 288.9L605 290.5L601.9 290.8L599.4 289.5L598.1 287.6Z" fill="#f2647f"/>
<path d="M511.2 208.8L513.8 207.1L518.3 205.8L523.3 206.7L527.5 207.1L531.7 207.5L530.8 209.6L527.5 211.2L524.2 212.9L521.2 214.6L520.4 216.2L517.5 215.8L514.2 216.2L510.8 215.4L509.2 213.8L510.8 211.7L512.1 210.4Z" fill="#fa7876"/>
<path d="M632.2 296.4L636.2 290.8L637.5 289.8L637.2 291.4L633.5 297Z" fill="#f2647f"/>
<path d="M175.6 330L178.1 330L181.2 331.9L182.5 328.8L185.6 325.6L188.8 322.5L190 320L193.8 323.1L196.9 325L200 326.2L201.2 330L198.1 331.9L194.4 335L193.8 339.4L196.2 342.5L200 345L201.2 347.5L206.2 346.9L205 352L206 360L204 366L199 362L192 356L188 350L184 342L181.2 341.2L178.1 335.6L175.6 331.9Z" fill="#f2647f"/>
<path d="M653.1 230L656.9 230.6L656.2 232.2L653.8 232.5Z" fill="#f89178"/>
<path d="M204 366L208 372L206.9 370L208.8 375L210 378.8L208.8 383.8L208.1 390L208.8 395L208.5 401.2L209.4 407.5L210 413.8L210.6 420L211.9 426.2L213.8 432.5L215 438.8L216 442L218 448L221 453L224 456L228 457L232 459L237 461L234 462.4L228 461L222 458L217 454L213 448L210 440L208.8 440L209.4 435L208.1 431.2L206.9 425L205.6 420L204.4 416.2L205.6 411.2L205 405L204.8 397.5L204 390L204.4 382.5L204 376.2L203.8 370L203.6 369Z" fill="#c0369d"/>
<path d="M507.1 215.8L509.2 213.8L510.8 215.4L514.2 216.2L517.5 215.8L520.4 216.2L522.1 218.3L524.2 220.8L523.3 222.1L520.8 221.7L518.8 222.9L516.7 220L515 219.2L513.8 220.8L511.7 221.7L509.6 222.1L507.9 220Z" fill="#fa7876"/>
<path d="M210 378.2L213.1 376.2L216.5 376.5L219.8 376L221.9 378.2L225 380.6L228.8 382.5L232.5 384.4L233.1 388.8L235.6 390L238.1 389.4L240 385.6L242.5 386.9L243.1 388.8L240.6 391.9L238.1 395L236.9 397.5L235 402.5L235.6 407.5L238.1 410L240.6 413.8L240 417.5L237.5 419.4L233.8 420L230.6 421.2L231 425L227.5 426.2L225.6 428.1L229.4 430L227.5 432.5L226.9 435L225 437.5L226.2 440L228.8 442.5L228 447L225 449L226 454L228 457L224 456L221 453L218 448L216 442L215 438.8L213.8 432.5L211.9 426.2L210.6 420L210 413.8L209.4 407.5L208.5 401.2L208.8 395L208.1 390L208.8 383.8Z" fill="#a431a0"/>
<path d="M664.4 321.2L668.1 320L671.9 320.6L672.8 323.8L670.6 324.4L673.8 326.9L677.5 324.4L680.6 323.1L684.4 324L687.5 326L687.2 342.5L683.8 341.9L681.2 340.6L679.8 340L681.9 337.5L682.5 335L680 332.5L676.9 330.6L673.8 329.4L670.6 329.4L669 326.9L666.9 324.4Z" fill="#d54393"/>
<path d="M687.5 326L691.2 326.9L695.6 329.4L699.4 331.9L702.5 335L703.1 336.9L701.2 337.5L702.5 340L705 342.5L708.1 345.6L708.8 346.9L705.6 346.5L702.5 344.4L700 341.9L698.1 339.4L695.6 340L692.5 343.1L689.4 343.1L687.2 342.5Z" fill="#f2647f"/>
<path d="M221.9 378.8L223.1 373.8L224.4 370.6L227.5 370L230.6 371.2L233.1 375L236.2 376.9L238.1 378.8L240.6 381.9L241.2 385.6L240 385.6L238.1 389.4L235.6 390L233.1 388.8L232.5 384.4L228.8 382.5L225 380.6Z" fill="#f2647f"/>
<path d="M704.4 333.1L708.1 333.8L711.9 331.9L713.8 330L713.1 326.9L711.2 325.6L712.5 325.4L715 327.5L715.6 330.6L713.1 333.8L709.4 335.6L705.6 335Z" fill="#f2647f"/>
<path d="M236.9 396.8L241.9 399L246.5 404L246 406.9L244.4 409.4L241.2 410L238.1 409.8L235.6 407.5L235 402.5Z" fill="#ea4f88"/>
<path d="M425 198.8L428.8 197.5L432.5 200.6L435 202.5L440 203.1L445.6 205L449.4 206.9L450 209.4L448.1 211.2L443.8 211.2L438.8 210L433.8 209.4L429.4 210.6L425 211.2L423.5 212.1L422.2 210L421.5 206.9L422.2 203.8L421.2 200.6L422.5 198.5Z" fill="#fff"/>
<path d="M435 197.8L438.8 196.2L443.1 196L441.9 198.1L440 200L436.9 200.2Z" fill="#fff"/>
<path d="M460.6 201.9L462.5 199.4L465.6 197.5L470 197.2L472.2 198.8L471.2 201.2L468.8 201.9L468.1 204.4L470 207.5L473.1 210L475 209.4L477.5 210.6L478.1 212.5L476.9 213.8L477.5 217.5L478.8 221.2L475.6 223.1L472.5 222.5L470 220.6L468.1 217.5L467.5 213.8L465.6 210L463.1 206.9L461.2 204.4Z" fill="#fff"/>
<path d="M431.5 200L434 203L438 202.5L442.5 200L440 198.8L436.2 197.5L434.4 195.6L432.5 196.2Z" fill="#f6a97a"/>
</g>
<!-- legend -->
<g>
<rect x="98.8" y="517" width="47.6" height="11.2" fill="url(#hatch2)" stroke="#d4d4d4" stroke-width="0.9"/>
<line x1="122.5" y1="515" x2="122.5" y2="517" stroke="#999" stroke-width="0.7"/>
<text class="leg" x="122.6" y="509.9" textLength="45.8" lengthAdjust="spacing">No data</text>
<rect x="166" y="517" width="58.5" height="11" fill="#edd9a3"/>
<rect x="224.5" y="517" width="58.5" height="11" fill="#f2c18f"/>
<rect x="283" y="517" width="58.5" height="11" fill="#f6a97a"/>
<rect x="341.5" y="517" width="58.5" height="11" fill="#f89178"/>
<rect x="400" y="517" width="58.5" height="11" fill="#fa7876"/>
<rect x="458.5" y="517" width="58.5" height="11" fill="#f2647f"/>
<rect x="517" y="517" width="58.5" height="11" fill="#ea4f88"/>
<rect x="575.5" y="517" width="58.5" height="11" fill="#d54393"/>
<rect x="634" y="517" width="58.5" height="11" fill="#c0369d"/>
<path d="M692.5 517H745L751 522.5L745 528H692.5Z" fill="#a431a0"/>
<path d="M166 517H745L751 522.5L745 528H166Z" fill="none" stroke="#888" stroke-opacity=".5" stroke-width=".5"/>
<g stroke="#666" stroke-opacity=".7" stroke-width=".7">
<line x1="166" y1="514" x2="166" y2="528"/><line x1="224.5" y1="514" x2="224.5" y2="528"/><line x1="283" y1="514" x2="283" y2="528"/><line x1="341.5" y1="514" x2="341.5" y2="528"/><line x1="400" y1="514" x2="400" y2="528"/><line x1="458.5" y1="514" x2="458.5" y2="528"/><line x1="517" y1="514" x2="517" y2="528"/><line x1="575.5" y1="514" x2="575.5" y2="528"/><line x1="634" y1="514" x2="634" y2="528"/><line x1="692.5" y1="514" x2="692.5" y2="528"/>
</g>
<text class="leg" x="166" y="509.9">0</text><text class="leg" x="224.5" y="509.9">10</text><text class="leg" x="283" y="509.9">20</text><text class="leg" x="341.5" y="509.9">30</text><text class="leg" x="400" y="509.9">40</text><text class="leg" x="458.5" y="509.9">50</text><text class="leg" x="517" y="509.9">60</text><text class="leg" x="575.5" y="509.9">70</text><text class="leg" x="634" y="509.9">80</text><text class="leg" x="692.5" y="509.9">90</text>
</g>
<text class="foot" x="16.3" y="560.5" textLength="323.5" lengthAdjust="spacing"><tspan font-weight="bold">Data source:</tspan> Global Pandemic Mortality Project II (2019)</text>
<text class="foot" x="16.3" y="580.2" textLength="584" lengthAdjust="spacing"><tspan font-weight="bold">Note:</tspan> This shows an average between 2002 and 2011, excluding the 2009 Swine flu pandemic season.</text>
<text class="foot" x="567" y="560.5" textLength="264.5" lengthAdjust="spacing">OurWorldinData.org/influenza-deaths | CC BY</text>
</svg>
</body></html>
